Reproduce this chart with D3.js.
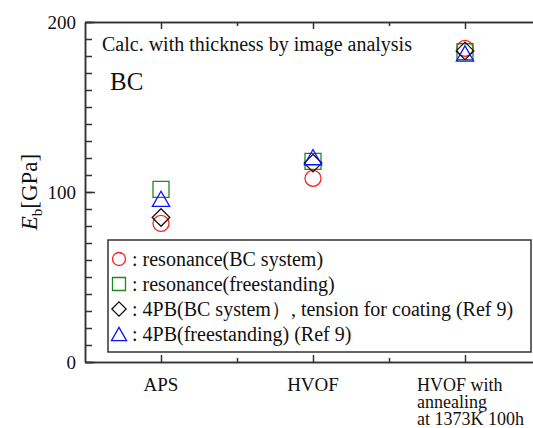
<!DOCTYPE html>
<html>
<head>
<meta charset="utf-8">
<script src="https://cdn.jsdelivr.net/npm/d3@7"></script>
<style>
  body { margin: 0; background: #fff; }
  svg, svg text { font-family: "Liberation Serif", "Times New Roman", "DejaVu Serif", serif; }
</style>
</head>
<body>
<div id="chart"></div>
<script>
/* DATA */
const categories = ["APS", "HVOF", "HVOF with annealing"]
const categoryLabels = [["APS"], ["HVOF"], ["HVOF with", "annealing", "at 1373K 100h"]]
const categoryPos = [1, 2, 3]

const resonanceBC = [81.5, 108, 184.5]
const resonanceFree = [101.5, 118, 182.5]
const pb4BC = [85, 117, 183]
const pb4Free = [96, 120.5, 181.5]

const yMajorTicks = [0, 100, 200]
const yMinorTicks = d3.range(0, 201, 10)
const xMajorTicks = [1, 2, 3]
const xMinorTicks = [1.5, 2.5]

const seriesList = [
  { name: "resonance(BC system)", values: resonanceBC, shape: "circle", color: "#ff2020" },
  { name: "resonance(freestanding)", values: resonanceFree, shape: "square", color: "#1e8a1e" },
  { name: "4PB(BC system\uFF09, tension for coating (Ref 9)", values: pb4BC, shape: "diamond", color: "#111" },
  { name: "4PB(freestanding) (Ref 9)", values: pb4Free, shape: "triangle", color: "#1010ff" }
]

/* CONSTANTS */
const width = 533, height = 428
const margin = { top: 22, bottom: 66, left: 85 }
const axisColor = "#333"
const serif = "'Liberation Serif', 'Times New Roman', 'DejaVu Serif', serif"

const svg = d3.select("#chart")
  .append("svg")
  .attr("width", width)
  .attr("height", height)
  .attr("font-family", serif)

//scales
const xScale = d3.scaleLinear()
  .domain([0.5, 3.5])
  .range([margin.left, margin.left + 456])

const yScale = d3.scaleLinear()
  .domain([0, 200])
  .range([height - margin.bottom, margin.top])

// marker paths centred on their bounding box
function markerPath(shape, s) {
  const h = s / 2
  if (shape === "circle") {
    const p = d3.path(); p.arc(0, 0, h, 0, 2 * Math.PI); return p.toString()
  }
  if (shape === "square") return `M${-h},${-h}H${h}V${h}H${-h}Z`
  if (shape === "diamond") return `M0,${-h * 1.1}L${h * 1.1},0L0,${h * 1.1}L${-h * 1.1},0Z`
  // triangle
  return `M0,${-h * 0.95}L${h * 1.08},${h * 0.95}L${-h * 1.08},${h * 0.95}Z`
}

function styleAxis(g) {
  g.attr("font-family", serif)
  g.selectAll("path.domain").attr("stroke", axisColor).attr("stroke-width", 1.5)
  g.selectAll(".tick line").attr("stroke", axisColor).attr("stroke-width", 1.5)
}

//y-axis minor ticks
svg.append("g")
  .attr("transform", `translate(${margin.left},0)`)
  .call(d3.axisLeft(yScale).tickValues(yMinorTicks).tickSizeInner(-7).tickSizeOuter(0).tickFormat(""))
  .call(styleAxis)

//y-axis major ticks + labels
svg.append("g")
  .attr("transform", `translate(${margin.left},0)`)
  .call(d3.axisLeft(yScale).tickValues(yMajorTicks).tickSizeInner(-10).tickSizeOuter(0).tickPadding(9))
  .call(styleAxis)
  .call(g => g.selectAll("text")
    .attr("font-size", 19)
    .attr("fill", "#111"))

//x-axis bottom and top, ticks pointing inward
const xAxes = [
  { axis: d3.axisBottom, y: height - margin.bottom },
  { axis: d3.axisTop, y: margin.top }
]
xAxes.forEach(a => {
  svg.append("g")
    .attr("transform", `translate(0,${a.y})`)
    .call(a.axis(xScale).tickValues(xMajorTicks).tickSizeInner(-7).tickSizeOuter(0).tickFormat(""))
    .call(styleAxis)
  svg.append("g")
    .attr("transform", `translate(0,${a.y})`)
    .call(a.axis(xScale).tickValues(xMinorTicks).tickSizeInner(-4).tickSizeOuter(0).tickFormat(""))
    .call(styleAxis)
})

// right border (mostly outside the view)
svg.append("line")
  .attr("x1", xScale(3.5)).attr("x2", xScale(3.5))
  .attr("y1", yScale(0)).attr("y2", yScale(200))
  .attr("stroke", axisColor).attr("stroke-width", 1.5)

//category labels
categoryLabels.forEach((lines, i) => {
  const multi = lines.length > 1
  const t = svg.append("text")
    .attr("font-size", multi ? 18 : 19)
    .attr("fill", "#111")
    .attr("text-anchor", multi ? "start" : "middle")
  lines.forEach((line, j) => {
    t.append("tspan")
      .attr("x", multi ? xScale(categoryPos[i]) - 48 : xScale(categoryPos[i]))
      .attr("y", 391 + j * 17)
      .text(line)
  })
})

//y-axis label
const yLabel = svg.append("text")
  .attr("transform", `translate(37,${yScale(100)}) rotate(-90)`)
  .attr("text-anchor", "middle")
  .attr("font-size", 23)
  .attr("fill", "#111")
yLabel.append("tspan").attr("font-style", "italic").text("E")
yLabel.append("tspan").attr("font-size", 15).attr("dy", 5).text("b")
yLabel.append("tspan").attr("dy", -5).text("[GPa]")

//annotations
svg.append("text")
  .attr("x", 102).attr("y", 51)
  .attr("font-size", 20)
  .attr("fill", "#111")
  .text("Calc. with thickness by image analysis")

svg.append("text")
  .attr("x", 110).attr("y", 90)
  .attr("font-size", 25)
  .attr("fill", "#111")
  .text("BC")

//data points
seriesList.forEach(s => {
  svg.selectAll(null)
    .data(s.values)
    .join("path")
    .attr("transform", (d, i) => `translate(${xScale(categoryPos[i])},${yScale(d)})`)
    .attr("d", markerPath(s.shape, 16))
    .attr("fill", "none")
    .attr("stroke", s.color)
    .attr("stroke-width", 1.3)
})

//legend
const legend = svg.append("g")
legend.append("rect")
  .attr("x", 108).attr("y", 240)
  .attr("width", 423).attr("height", 112)
  .attr("fill", "#fff")
  .attr("stroke", axisColor)
  .attr("stroke-width", 1.5)

seriesList.forEach((s, i) => {
  const cy = 259 + i * 25
  legend.append("path")
    .attr("transform", `translate(119,${cy})`)
    .attr("d", markerPath(s.shape, s.shape === "triangle" ? 14 : 13))
    .attr("fill", "none")
    .attr("stroke", s.color)
    .attr("stroke-width", 1.3)
  legend.append("text")
    .attr("x", 132).attr("y", cy + 7)
    .attr("font-size", 20)
    .attr("fill", "#111")
    .text(": " + s.name)
})
</script>
</body>
</html>
